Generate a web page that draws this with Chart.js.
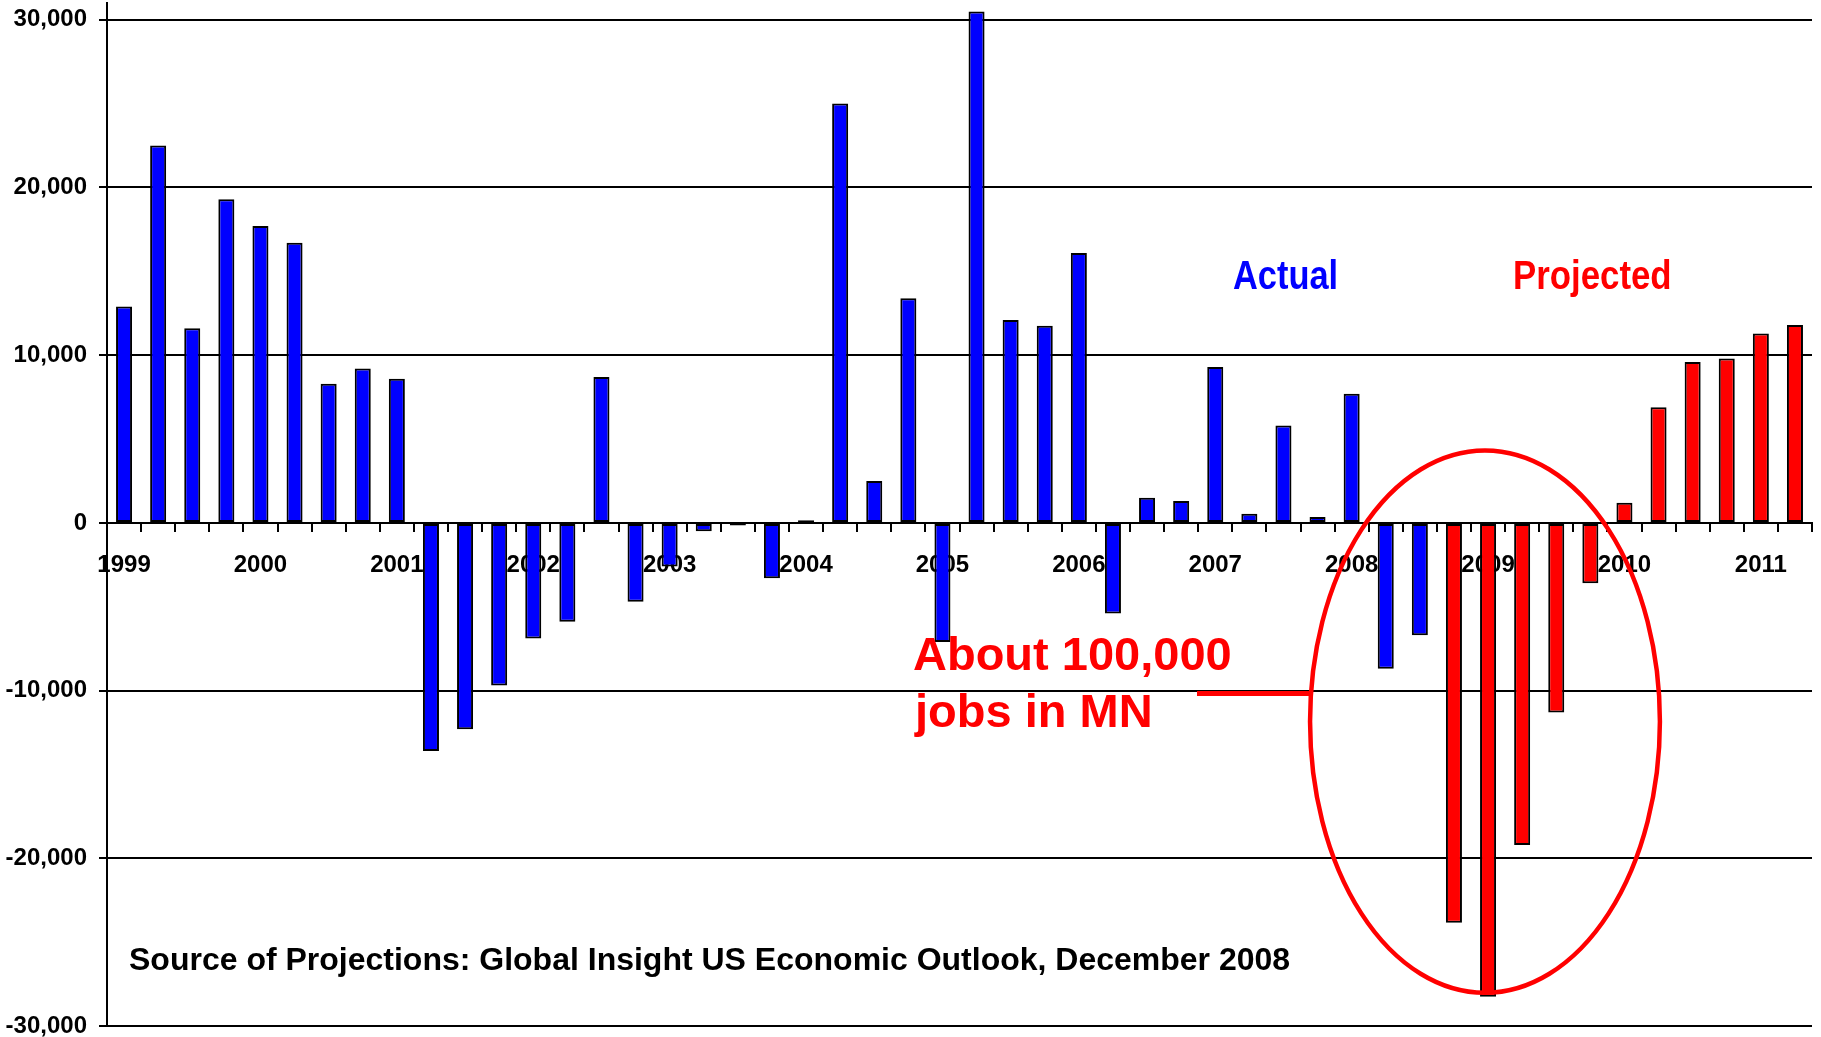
<!DOCTYPE html>
<html>
<head>
<meta charset="utf-8">
<script src="https://cdn.jsdelivr.net/npm/chart.js@4.4.1/dist/chart.umd.min.js"></script>
<style>
html,body{margin:0;padding:0;background:#fff;overflow:hidden}
#wrap{width:1821px;height:1037px;position:relative}
</style>
</head>
<body>
<div id="wrap"><canvas id="c" width="1821" height="1037"></canvas></div>
<script>
// ---- data ----
const years = ['1999','2000','2001','2002','2003','2004','2005','2006','2007','2008','2009','2010','2011'];
const quarterNames = ['Q1','Q2','Q3','Q4'];
// quarterly change in MN jobs, 1999 Q1 .. 2008 Q3 (actual)
const actual = [
  12900, 22500, 11600, 19300,
  17700, 16700, 8300, 9200,
  8600, -13600, -12300, -9700,
  -6900, -5900, 8700, -4700,
  -2600, -500, -150, -3300,
  150, 25000, 2500, 13400,
  -7100, 30500, 12100, 11750,
  16100, -5400, 1500, 1300,
  9300, 550, 5800, 350,
  7700, -8700, -6700
];
// 2008 Q4 .. 2011 Q2 (projected)
const projected = [
  -23850,
  -28250, -19200, -11300, -3600,
  1200, 6900, 9600, 9800,
  11300, 11800
];
const yTickValues = [-30000, -20000, -10000, 0, 10000, 20000, 30000];
const labelActual = 'Actual';
const labelProjected = 'Projected';
const calloutLines = ['About 100,000', 'jobs in MN'];
const sourceNote = 'Source of Projections: Global Insight US Economic Outlook, December 2008';

// ---- build categories / datasets ----
const categories = [];
years.forEach(yr => quarterNames.forEach(q => categories.push(yr + ' ' + q)));
categories.length = actual.length + projected.length;

const actualSeries = actual.concat(projected.map(() => null));
const projectedSeries = actual.map(() => null).concat(projected);

const FONT = '"Liberation Sans", Arial, Helvetica, sans-serif';

const annotations = {
  id: 'annotations',
  afterDraw(chart) {
    const {ctx, scales: {x, y}} = chart;
    ctx.save();
    // ellipse around the 2008-2009 losses
    const catW = x.getPixelForValue(1) - x.getPixelForValue(0);
    const cx = x.getPixelForValue(40) - 0.09 * catW;
    const cy = y.getPixelForValue(-11850);
    const rx = 5.13 * catW;
    const ry = y.getPixelForValue(-28020) - cy;
    ctx.strokeStyle = '#ff0000';
    ctx.lineWidth = 4.5;
    ctx.beginPath();
    ctx.ellipse(cx, cy, rx, ry, 0, 0, Math.PI * 2);
    ctx.stroke();

    // connector line from callout to ellipse
    const ly = y.getPixelForValue(-10000) + 3;
    const dy = ly - cy;
    const ex = cx - rx * Math.sqrt(1 - (dy * dy) / (ry * ry));
    ctx.lineWidth = 5;
    ctx.beginPath();
    ctx.moveTo(1197, ly);
    ctx.lineTo(ex + 1, ly);
    ctx.stroke();

    // texts
    ctx.textAlign = 'left';
    ctx.textBaseline = 'alphabetic';
    function cond(txt, px, py, sx) {
      ctx.save();
      ctx.translate(px, py);
      ctx.scale(sx, 1);
      ctx.fillText(txt, 0, 0);
      ctx.restore();
    }
    ctx.font = 'bold 40px ' + FONT;
    ctx.fillStyle = '#0000ff';
    cond(labelActual, 1233, 289, 0.86);
    ctx.fillStyle = '#ff0000';
    cond(labelProjected, 1513, 289, 0.87);

    ctx.font = 'bold 47px ' + FONT;
    ctx.fillStyle = '#ff0000';
    ctx.fillText(calloutLines[0], 913, 670);
    ctx.fillText(calloutLines[1], 915, 727);

    ctx.font = 'bold 32px ' + FONT;
    ctx.fillStyle = '#000000';
    ctx.fillText(sourceNote, 129, 970);
    ctx.restore();
  }
};

new Chart(document.getElementById('c'), {
  type: 'bar',
  data: {
    labels: categories,
    datasets: [
      {
        label: labelActual,
        data: actualSeries,
        backgroundColor: '#0000ff',
        borderColor: '#000000',
        borderWidth: 2,
        borderSkipped: false,
        grouped: false,
        barPercentage: 0.47,
        categoryPercentage: 1.0
      },
      {
        label: labelProjected,
        data: projectedSeries,
        backgroundColor: '#ff0000',
        borderColor: '#000000',
        borderWidth: 2,
        borderSkipped: false,
        grouped: false,
        barPercentage: 0.47,
        categoryPercentage: 1.0
      }
    ]
  },
  options: {
    responsive: false,
    animation: false,
    devicePixelRatio: 1,
    layout: { padding: { top: 3, bottom: 11, left: 0, right: 9 } },
    plugins: {
      legend: { display: false },
      title: { display: false },
      tooltip: { enabled: false }
    },
    scales: {
      x: {
        position: { y: 0 },
        z: 1,
        offset: true,
        grid: {
          display: true,
          drawOnChartArea: false,
          drawTicks: true,
          tickLength: 8,
          offset: true,
          color: '#000000',
          lineWidth: 2
        },
        border: { display: true, color: '#000000', width: 2 },
        ticks: {
          autoSkip: false,
          maxRotation: 0,
          minRotation: 0,
          padding: 20,
          color: '#000000',
          font: { family: FONT, size: 24, weight: 'bold' },
          callback: function (value) {
            const lbl = this.getLabelForValue(value);
            return lbl.endsWith('Q1') ? lbl.slice(0, 4) : '';
          }
        }
      },
      y: {
        min: -30000,
        max: 31000,
        grid: {
          color: '#000000',
          lineWidth: 2,
          tickLength: 8,
          drawTicks: true
        },
        border: { display: true, color: '#000000', width: 2 },
        ticks: {
          stepSize: 10000,
          includeBounds: false,
          padding: 12,
          color: '#000000',
          font: { family: FONT, size: 24, weight: 'bold' },
          callback: v => v.toLocaleString('en-US')
        },
        afterBuildTicks: axis => {
          axis.ticks = yTickValues.map(v => ({ value: v }));
        },
        afterFit: axis => {
          axis.width = 107;
          axis.paddingTop = 0;
          axis.paddingBottom = 0;
        }
      }
    }
  },
  plugins: [annotations]
});
</script>
</body>
</html>
